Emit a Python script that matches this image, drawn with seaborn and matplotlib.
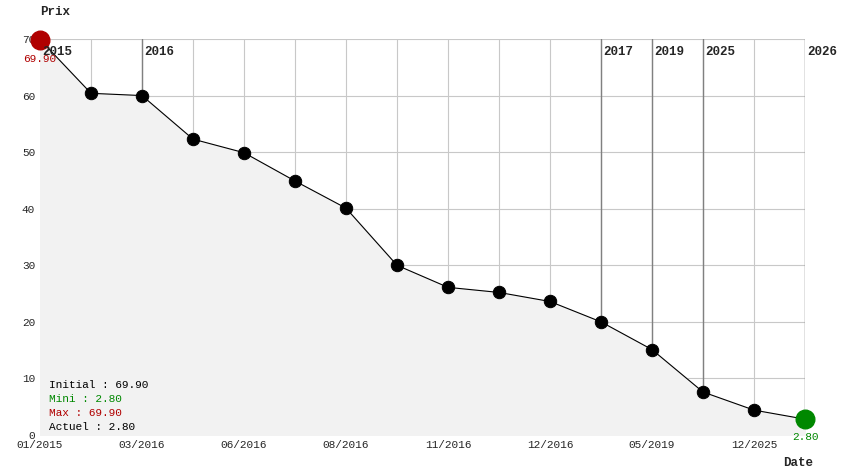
import matplotlib
matplotlib.use("Agg")
import matplotlib.pyplot as plt
import seaborn as sns
import pandas as pd

# values
prices = [69.9, 60.4, 60.0, 52.3, 49.9, 44.9, 40.1, 30.0, 26.1, 25.2, 23.6, 20.0, 15.1, 7.6, 4.4, 2.8]
tick_labels = ["01/2015", "03/2016", "06/2016", "08/2016", "11/2016", "12/2016", "05/2019", "12/2025"]
year_marks = [(0, "2015"), (2, "2016"), (11, "2017"), (12, "2019"), (13, "2025"), (15, "2026")]

df = pd.DataFrame({"idx": range(len(prices)), "prix": prices})

sns.set_style("white")
plt.rcParams["font.family"] = ["Liberation Mono", "DejaVu Sans Mono"]

fig = plt.figure(figsize=(8.44, 4.74), dpi=100)
ax = fig.add_axes([40 / 844, 39 / 474, 765 / 844, 396 / 474])

ax.fill_between(df["idx"], df["prix"], 0, color="#f2f2f2", zorder=1)
for i in df["idx"]:
    ax.axvline(i, color="#c8c8c8", lw=0.8, zorder=0)
for v in range(10, 71, 10):
    ax.axhline(v, color="#c8c8c8", lw=0.8, zorder=0)
for i, yr in year_marks:
    ax.axvline(i, color="#808080", lw=1, zorder=0.5)
    ax.text(i + 0.05, 68.8, yr, fontsize=9, fontweight="bold", va="top", ha="left", zorder=5)

sns.lineplot(data=df, x="idx", y="prix", color="black", lw=0.8, ax=ax, zorder=2)
sns.scatterplot(data=df.iloc[1:-1], x="idx", y="prix", color="black", s=80, ax=ax, zorder=3, edgecolor="black")
ax.scatter([0], [prices[0]], s=180, color="#b00000", zorder=4, clip_on=False)
ax.scatter([len(prices) - 1], [prices[-1]], s=180, color="#008800", zorder=4, clip_on=False)
ax.text(0, prices[0] - 2.6, f"{prices[0]:.2f}", color="#b00000", fontsize=8, ha="center", va="top")
ax.text(len(prices) - 1, prices[-1] - 2.3, f"{prices[-1]:.2f}", color="#008800", fontsize=8, ha="center", va="top")

ax.set_xlim(0, len(prices) - 1)
ax.set_ylim(0, 70)
ax.set_xticks(range(0, len(prices), 2))
ax.set_xticklabels(tick_labels)
ax.set_yticks(range(0, 71, 10))
ax.tick_params(labelsize=8, length=0)
ax.set_xlabel("")
ax.set_ylabel("")
for s in ax.spines.values():
    s.set_visible(False)

fig.text(40 / 844, 1 - 12 / 474, "Prix", fontsize=9, fontweight="bold", va="center")
fig.text(783 / 844, 1 - 463 / 474, "Date", fontsize=9, fontweight="bold", va="center")

lines = [(f"Initial : {prices[0]:.2f}", "black"), (f"Mini : {min(prices):.2f}", "#008800"),
         (f"Max : {max(prices):.2f}", "#b00000"), (f"Actuel : {prices[-1]:.2f}", "black")]
for k, (t, c) in enumerate(lines):
    fig.text(49 / 844, 1 - (385 + 14 * k) / 474, t, color=c, fontsize=8, va="center")

fig.savefig("out.png", dpi=100)
